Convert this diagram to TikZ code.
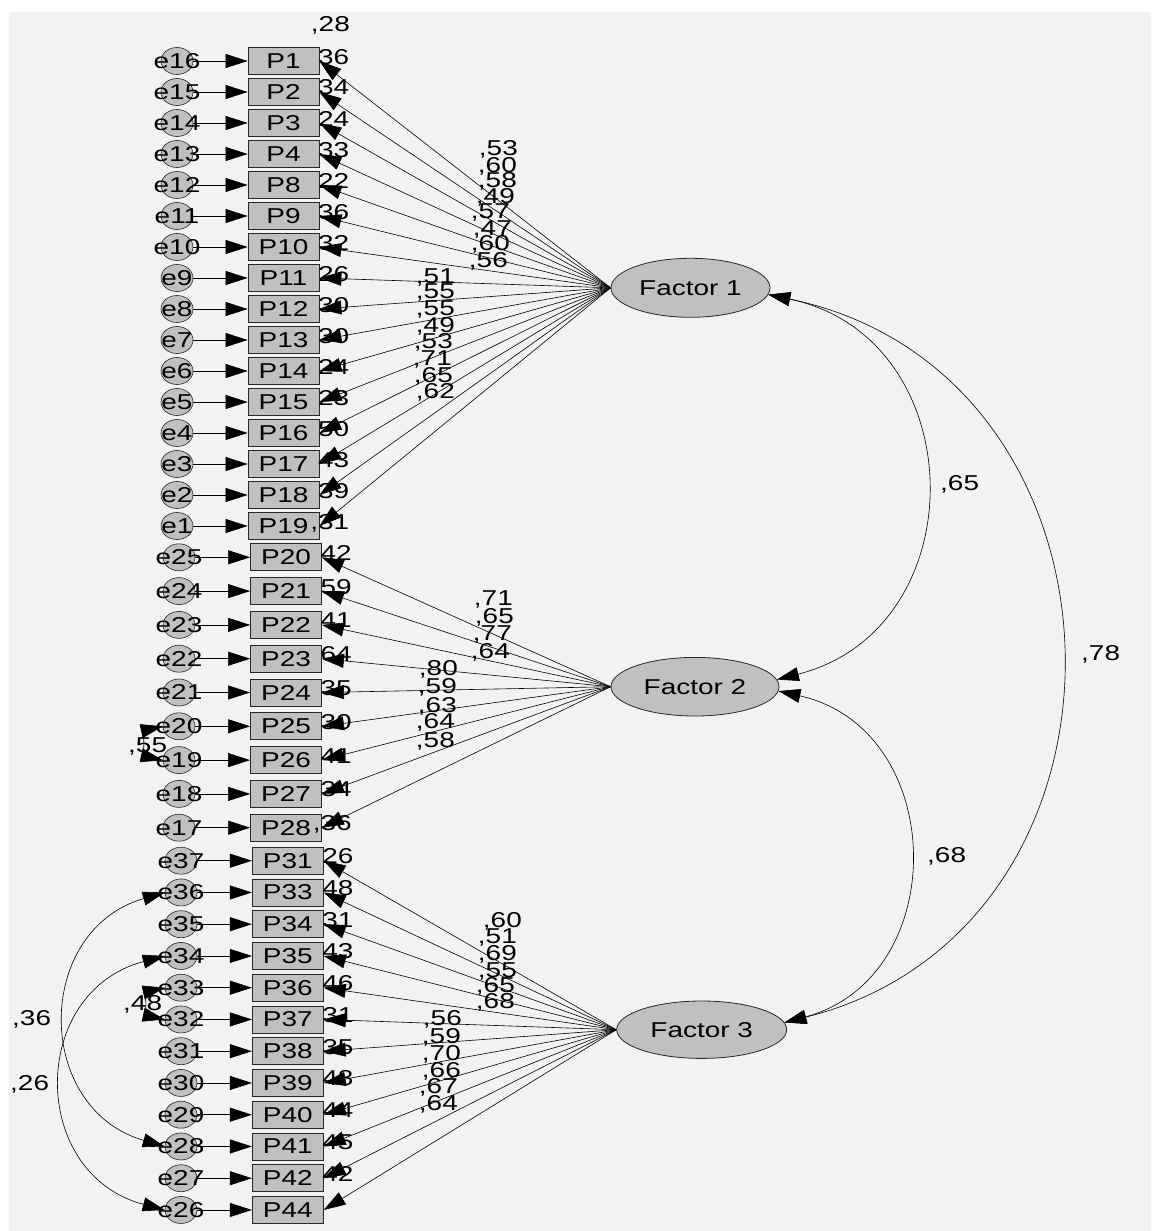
\documentclass[tikz,border=0pt]{standalone}
\usepackage{fontspec}
\newfontfamily\amos[FakeStretch=1.3]{Liberation Sans}
\usetikzlibrary{arrows.meta,shapes.geometric,calc}
\pgfdeclarelayer{back}\pgfdeclarelayer{conn}\pgfsetlayers{back,conn,main}
\definecolor{bgc}{RGB}{242,242,242}
\definecolor{fillg}{RGB}{192,192,192}
\definecolor{edgec}{RGB}{40,40,40}
\begin{document}
\begin{tikzpicture}[x=1pt,y=-1pt,
  txt/.style={font=\amos\fontsize{21.5}{21.5}\selectfont, inner sep=0pt, text=black},
  obs/.style={txt, draw=edgec, line width=0.8pt, fill=fillg, rectangle, minimum width=71pt, minimum height=27pt},
  err/.style={draw=edgec, line width=0.6pt, fill=fillg, ellipse, minimum width=32pt, minimum height=27pt, inner sep=0pt},
  lat/.style={txt, draw=edgec, line width=0.8pt, fill=fillg, ellipse},
  arr/.style={-{Triangle[length=22pt,width=14pt]}, line width=0.6pt, black},
  darr/.style={{Triangle[length=22pt,width=14pt]}-{Triangle[length=22pt,width=14pt]}, line width=0.6pt, black},
]
\useasboundingbox (0,0) rectangle (1151,1231);
\begin{pgfonlayer}{back}
\fill[white] (0,0) rectangle (1151,1231);
\fill[bgc] (9,12) rectangle (1151,1231);
\end{pgfonlayer}

% latent factors
\node[lat, minimum width=159pt, minimum height=59pt] (F1) at (690.5,287.8) {Factor 1};
\node[lat, minimum width=168pt, minimum height=58.6pt] (F2) at (695,686.7) {Factor 2};
\node[lat, minimum width=170pt, minimum height=57.4pt] (F3) at (701.7,1029.7) {Factor 3};

% group 1
\foreach \p/\e/\y/\r in {1/16/61/36, 2/15/92/34, 3/14/123/24, 4/13/154/33, 8/12/185/22,
  9/11/216/36, 10/10/247/32, 11/9/278/26, 12/8/309/30, 13/7/340/30, 14/6/371/24,
  15/5/402/23, 16/4/433/50, 17/3/464/43, 18/2/495/39, 19/1/526/{,}31}{
  \node[obs] (P\p) at (283.5,\y) {P\p};
  \node[err] (e\e) at (177,\y) {};
  \node[txt] (et\e) at (e\e) {e\e};
  \node[txt, anchor=base east] (r\p) at ($(P\p.east)+(30,3)$) {\r};
  \begin{pgfonlayer}{conn}
    \draw[arr] (e\e) -- (P\p);
    \draw[arr] (F1.west) -- (P\p.east);
  \end{pgfonlayer}
}
% group 2
\foreach \p/\e/\y/\r in {20/25/557.3/42, 21/24/591.1/59, 22/23/624.9/41, 23/22/658.7/64,
  24/21/692.5/35, 25/20/726.3/30, 26/19/760.1/41, 27/18/793.9/34, 28/17/827.7/{,}36}{
  \node[obs] (P\p) at (286,\y) {P\p};
  \node[err] (e\e) at (179,\y) {};
  \node[txt] (et\e) at (e\e) {e\e};
  \node[txt, anchor=base east] (r\p) at ($(P\p.east)+(30,3)$) {\r};
  \begin{pgfonlayer}{conn}
    \draw[arr] (e\e) -- (P\p);
    \draw[arr] (F2.west) -- (P\p.east);
  \end{pgfonlayer}
}
% group 3
\foreach \p/\e/\y in {31/37/860.7, 33/36/892.45, 34/35/924.2, 35/34/955.95, 36/33/987.7,
  37/32/1019.45, 38/31/1051.2, 39/30/1082.95, 40/29/1114.7, 41/28/1146.45, 42/27/1178.2, 44/26/1209.95}{
  \node[obs] (P\p) at (287.8,\y) {P\p};
  \node[err] (e\e) at (181,\y) {};
  \node[txt] (et\e) at (e\e) {e\e};
  \begin{pgfonlayer}{conn}
    \draw[arr] (e\e) -- (P\p);
    \draw[arr] (F3.west) -- (P\p.east);
  \end{pgfonlayer}
}
\foreach \p/\r in {31/26, 33/48, 34/31, 35/43, 36/46, 37/31, 38/35, 39/48, 40/44, 41/45, 42/42}{
  \node[txt, anchor=base east] (r\p) at ($(P\p.east)+(30,3)$) {\r};
}
\node[txt, anchor=base east] (r0) at (350,31.7) {,28};

% loading labels
\foreach \x/\b/\v [count=\i] in {518/155/53, 517/172/60, 517/187/58, 515/203/49, 510/218/57,
  512/235/47, 510/250/60, 508/267/56, 455/283/51, 455/298/55, 455/315/55, 455/332/49,
  453/348/53, 452/365/71, 453/382/65, 455/398/62}{
  \node[txt, anchor=base east] (la\i) at (\x,\b) {,\v};
}
\foreach \x/\b/\v [count=\i] in {513/605/71, 514/623/65, 512/640/77, 510/658/64, 458/675/80,
  457/693/59, 457/712/63, 455/728/64, 455/747/58}{
  \node[txt, anchor=base east] (lb\i) at (\x,\b) {,\v};
}
\foreach \x/\b/\v [count=\i] in {522/927/60, 517/943/51, 517/960/69, 517/977/55, 515/992/65,
  515/1008/68, 462/1025/56, 461/1043/59, 461/1060/70, 461/1077/66, 458/1093/67, 458/1110/64}{
  \node[txt, anchor=base east] (lc\i) at (\x,\b) {,\v};
}

% factor covariances
\begin{pgfonlayer}{conn}
\draw[darr] (F1.-5) .. controls +(205,43) and +(201,-51) .. (F2.5);
\draw[darr] (F1.-5) .. controls +(380,79) and +(376,-94) .. (F3.5);
\draw[darr] (F2.-3) .. controls +(170,38) and +(168,-45) .. (F3.5);
% error covariances
\draw[darr] (e36.west) .. controls +(-131,38) and +(-131,-38) .. (e28.west);
\draw[darr] (e34.west) .. controls +(-136,36) and +(-136,-36) .. (e26.west);
\draw[darr] (e20.west) .. controls +(-18,4) and +(-18,-4) .. (e19.west);
\draw[darr] (e33.west) .. controls +(-18,4) and +(-18,-4) .. (e32.west);
\end{pgfonlayer}
\node[txt, anchor=base west] (c12) at (940,490) {,65};
\node[txt, anchor=base west] (c13) at (1081,660) {,78};
\node[txt, anchor=base west] (c23) at (927,862) {,68};
\node[txt, anchor=base west] (c3628) at (12,1025) {,36};
\node[txt, anchor=base west] (c3426) at (10,1090) {,26};
\node[txt, anchor=base west] (c2019) at (128,752) {,55};
\node[txt, anchor=base west] (c3332) at (123,1010) {,48};
\end{tikzpicture}
\end{document}
